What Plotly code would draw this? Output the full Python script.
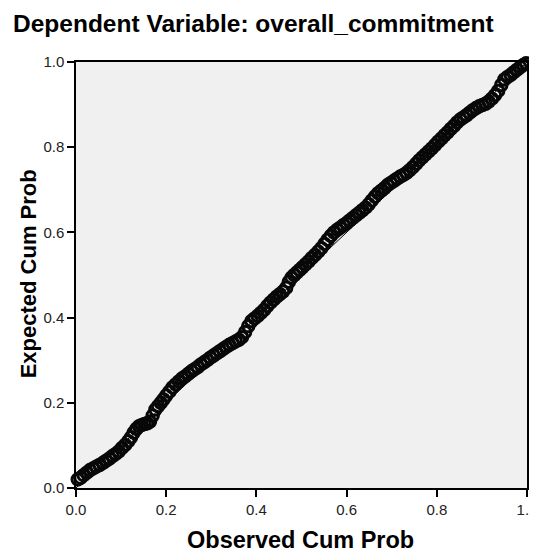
import plotly.graph_objects as go

observed_cum_prob = [
    0.004, 0.010, 0.017, 0.024, 0.031, 0.038, 0.045, 0.052, 0.060, 0.067,
    0.074, 0.081, 0.088, 0.095, 0.102, 0.109, 0.116, 0.122, 0.128, 0.134,
    0.140, 0.146, 0.152, 0.158, 0.164, 0.170, 0.176, 0.182, 0.188, 0.194,
    0.200, 0.207, 0.214, 0.221, 0.228, 0.235, 0.242, 0.249, 0.256, 0.263,
    0.270, 0.277, 0.284, 0.291, 0.298, 0.305, 0.312, 0.319, 0.326, 0.333,
    0.340, 0.347, 0.354, 0.361, 0.368, 0.375, 0.382, 0.389, 0.396, 0.403,
    0.410, 0.417, 0.424, 0.431, 0.438, 0.445, 0.452, 0.459, 0.466, 0.472,
    0.478, 0.484, 0.490, 0.496, 0.502, 0.509, 0.516, 0.523, 0.530, 0.537,
    0.544, 0.551, 0.558, 0.565, 0.572, 0.579, 0.586, 0.593, 0.600, 0.607,
    0.614, 0.621, 0.628, 0.635, 0.642, 0.649, 0.656, 0.663, 0.670, 0.677,
    0.684, 0.691, 0.698, 0.705, 0.712, 0.719, 0.726, 0.733, 0.740, 0.747,
    0.754, 0.761, 0.768, 0.775, 0.782, 0.789, 0.796, 0.803, 0.810, 0.817,
    0.824, 0.831, 0.838, 0.845, 0.852, 0.859, 0.866, 0.873, 0.880, 0.887,
    0.894, 0.901, 0.908, 0.915, 0.922, 0.929, 0.936, 0.943, 0.950, 0.957,
    0.964, 0.971, 0.978, 0.985, 0.992, 0.998,
]

expected_cum_prob = [
    0.020, 0.024, 0.030, 0.036, 0.042, 0.046, 0.050, 0.054, 0.059, 0.064,
    0.069, 0.075, 0.080, 0.086, 0.094, 0.101, 0.110, 0.119, 0.130, 0.139,
    0.145, 0.148, 0.150, 0.152, 0.156, 0.170, 0.184, 0.192, 0.200, 0.208,
    0.217, 0.226, 0.236, 0.243, 0.250, 0.257, 0.262, 0.268, 0.274, 0.279,
    0.284, 0.290, 0.295, 0.300, 0.306, 0.311, 0.316, 0.321, 0.326, 0.331,
    0.336, 0.340, 0.344, 0.348, 0.354, 0.366, 0.380, 0.392, 0.398, 0.404,
    0.411, 0.418, 0.427, 0.435, 0.442, 0.449, 0.455, 0.461, 0.470, 0.484,
    0.494, 0.500, 0.506, 0.512, 0.518, 0.525, 0.532, 0.540, 0.547, 0.555,
    0.563, 0.573, 0.583, 0.592, 0.600, 0.606, 0.611, 0.617, 0.622, 0.628,
    0.634, 0.640, 0.646, 0.652, 0.658, 0.666, 0.675, 0.684, 0.692, 0.698,
    0.704, 0.711, 0.716, 0.721, 0.726, 0.731, 0.735, 0.740, 0.746, 0.753,
    0.761, 0.769, 0.776, 0.783, 0.790, 0.797, 0.805, 0.813, 0.820, 0.828,
    0.835, 0.843, 0.850, 0.858, 0.865, 0.870, 0.875, 0.881, 0.887, 0.892,
    0.896, 0.899, 0.902, 0.907, 0.914, 0.922, 0.932, 0.946, 0.959, 0.965,
    0.970, 0.976, 0.982, 0.988, 0.993, 0.997,
]

reference_line = [0.0, 1.0]
tick_values = [0.0, 0.2, 0.4, 0.6, 0.8, 1.0]
tick_labels = ["0.0", "0.2", "0.4", "0.6", "0.8", "1.0"]

title_text = "Dependent Variable: overall_commitment"
x_title = "Observed Cum Prob"
y_title = "Expected Cum Prob"

FONT = "Liberation Sans, Arial, sans-serif"

fig = go.Figure()
fig.add_trace(go.Scatter(
    x=reference_line, y=reference_line, mode="lines",
    line=dict(color="#000000", width=1), showlegend=False, hoverinfo="skip",
))
fig.add_trace(go.Scatter(
    x=observed_cum_prob, y=expected_cum_prob, mode="markers",
    marker=dict(symbol="circle-open", size=11.5, color="#080808",
                line=dict(color="#080808", width=3)),
    showlegend=False, cliponaxis=False,
))

axis_common = dict(
    range=[0, 1], tickvals=tick_values, ticktext=tick_labels,
    ticks="outside", ticklen=7, tickwidth=1.5, tickcolor="#000000",
    showline=True, linecolor="#000000", linewidth=1.5, mirror=True,
    showgrid=False, zeroline=False, automargin=False,
    ticklabeloverflow="allow",
    tickfont=dict(family=FONT, size=15, color="#222222"),
)

fig.update_layout(
    width=529, height=546,
    margin=dict(l=68, r=10, t=54, b=66),
    paper_bgcolor="#ffffff", plot_bgcolor="#f0f0f0",
    xaxis=axis_common,
    yaxis=axis_common,
    annotations=[
        dict(text="<b>" + title_text + "</b>", xref="paper", yref="paper",
             x=-0.144, y=1.0915, xanchor="left", yanchor="middle",
             showarrow=False, font=dict(family=FONT, size=24.5, color="#000000")),
        dict(text="<b>" + x_title + "</b>", xref="paper", yref="paper",
             x=0.4967, y=-0.122, xanchor="center", yanchor="middle",
             showarrow=False, font=dict(family=FONT, size=23.5, color="#000000")),
        dict(text="<b>" + y_title + "</b>", xref="paper", yref="paper",
             x=-0.106, y=0.502, xanchor="center", yanchor="middle", textangle=-90,
             showarrow=False, font=dict(family=FONT, size=22, color="#000000")),
    ],
)

fig.write_html("out.html")
